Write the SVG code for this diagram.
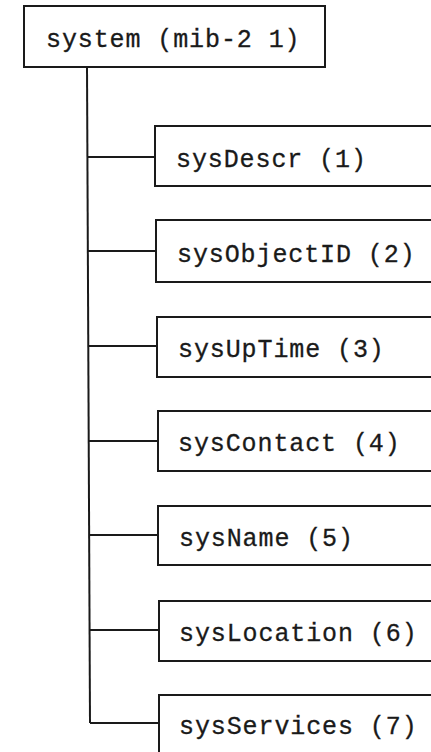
<svg xmlns="http://www.w3.org/2000/svg" width="431" height="752" viewBox="0 0 431 752">
<style>
.box{fill:#fff;stroke:#1a1a1a;stroke-width:2}
.lbl{font-family:"Liberation Mono","DejaVu Sans Mono",monospace;font-size:25px;letter-spacing:0.9px;fill:#1a1a1a;stroke:#1a1a1a;stroke-width:0.3}
.con{fill:none;stroke:#1a1a1a;stroke-width:2}
</style>
<rect width="431" height="752" fill="#fff"/>
<g id="connectors">
<path class="con" d="M87,67 L90,723"/>
<path class="con" d="M87.6,157 H155"/>
<path class="con" d="M88,251 H156"/>
<path class="con" d="M88.4,346 H157"/>
<path class="con" d="M88.9,441 H158"/>
<path class="con" d="M89.2,535 H158"/>
<path class="con" d="M89.6,630 H159"/>
<path class="con" d="M90,723 H159"/>
</g>
<g id="system">
<rect class="box" x="24" y="6" width="301" height="61"/>
<text class="lbl" x="46" y="47">system (mib-2 1)</text>
</g>
<g id="sysDescr">
<rect class="box" x="155" y="126" width="290" height="60"/>
<text class="lbl" x="176" y="167">sysDescr (1)</text>
</g>
<g id="sysObjectID">
<rect class="box" x="156" y="220" width="290" height="62"/>
<text class="lbl" x="177" y="262">sysObjectID (2)</text>
</g>
<g id="sysUpTime">
<rect class="box" x="157" y="317" width="290" height="60"/>
<text class="lbl" x="178" y="357">sysUpTime (3)</text>
</g>
<g id="sysContact">
<rect class="box" x="158" y="411" width="290" height="60"/>
<text class="lbl" x="178" y="451">sysContact (4)</text>
</g>
<g id="sysName">
<rect class="box" x="158" y="506" width="290" height="59"/>
<text class="lbl" x="179" y="546">sysName (5)</text>
</g>
<g id="sysLocation">
<rect class="box" x="159" y="601" width="290" height="60"/>
<text class="lbl" x="179" y="641">sysLocation (6)</text>
</g>
<g id="sysServices">
<rect class="box" x="159" y="695" width="290" height="70"/>
<text class="lbl" x="179" y="734">sysServices (7)</text>
</g>
</svg>
